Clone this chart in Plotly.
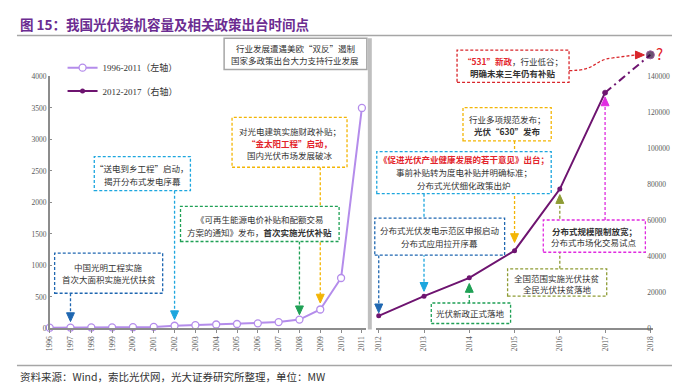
import plotly.graph_objects as go

W, H = 680, 384

# ---------------- data ----------------
years_left = list(range(1996, 2012))
cap_left = [11, 13, 15, 16, 19, 24, 42, 52, 62, 70, 80, 100, 140, 300, 800, 3500]
years_right = list(range(2012, 2018))
cap_right = [7000, 17900, 28100, 43200, 77400, 131000]
years_proj = [2017, 2018]
cap_proj = [131000, 152000]
left_ticks = list(range(0, 4001, 500))
right_ticks = list(range(0, 140001, 20000))
right_ticktext = [str(v) for v in right_ticks]
xt_left = [str(y) for y in years_left]
years_right_axis = list(range(2012, 2019))
xt_right = [str(y) for y in years_right_axis]

# ---------------- geometry helpers ----------------
def px(x):
    return x / W

def py(y):
    return 1 - y / H

LX0, LX1 = 37, 356
RX0, RX1 = 366, 646
Y_BOT, Y_TOP_L, Y_TOP_R = 324, 66, 27
L_STEP = 21.0
R_STEP = 45.67
L_RANGE = [1996, 1996 + (LX1 - LX0) / L_STEP]
r0 = 2012 - (369 - RX0) / R_STEP
R_RANGE = [r0, r0 + (RX1 - RX0) / R_STEP]
R_MAX = 140000 * (Y_BOT - Y_TOP_R) / (Y_BOT - Y_TOP_L)


def lx(year):
    return LX0 + (year - L_RANGE[0]) * L_STEP


def rx(year):
    return RX0 + (year - R_RANGE[0]) * R_STEP


LAV = "#B48CEB"
PUR = "#6E1470"
TXT = "#333333"
REDT = "#E3242B"
BLUE_D = "#1F67B1"
CYAN = "#1DA6DE"
GREEN = "#1FA055"
GOLD = "#F3B505"
RED = "#D9262B"
OLIVE = "#8E9C35"
MAGENTA = "#E02BE0"
GRAY = "#A6A6A6"
CJK = "Noto Sans CJK SC"
SERIF = "Liberation Serif"

fig = go.Figure()
fig.add_trace(go.Scatter(
    x=years_left, y=cap_left, name="1996-2011（左轴）", mode="lines+markers",
    line=dict(color=LAV, width=2),
    marker=dict(symbol="circle", size=7, color="white", line=dict(color=LAV, width=1.3)),
    xaxis="x", yaxis="y", cliponaxis=False, legend="legend"))
fig.add_trace(go.Scatter(
    x=years_right, y=cap_right, name="2012-2017（右轴）", mode="lines+markers",
    line=dict(color=PUR, width=2), marker=dict(size=5, color=PUR),
    xaxis="x2", yaxis="y2", cliponaxis=False, legend="legend2"))
fig.add_trace(go.Scatter(
    x=years_proj, y=cap_proj, mode="lines+markers", showlegend=False,
    line=dict(color=PUR, width=2, dash="8px,4px,2px,4px"),
    marker=dict(size=[5, 8], color=[PUR, "#2A0B35"]),
    xaxis="x2", yaxis="y2", cliponaxis=False, legend="legend2"))

shapes = []
annotations = []


def line(x0, y0, x1, y1, color, width=1.3, dash=None, layer="above"):
    shapes.append(dict(type="line", xref="paper", yref="paper",
                       x0=px(x0), y0=py(y0), x1=px(x1), y1=py(y1),
                       line=dict(color=color, width=width, dash=dash), layer=layer))


def box(x0, y0, x1, y1, color, dash="3px,2px", width=1.3):
    shapes.append(dict(type="rect", xref="paper", yref="paper",
                       x0=px(x0), y0=py(y1), x1=px(x1), y1=py(y0),
                       line=dict(color=color, width=width, dash=dash),
                       fillcolor="white", layer="above"))


def tri(x, y, color, direction="down", w=4, h=9):
    if direction == "down":
        pts = [(x - w, y - h), (x + w, y - h), (x, y)]
    elif direction == "up":
        pts = [(x - w, y + h), (x + w, y + h), (x, y)]
    else:
        pts = [(x - h, y - w), (x - h, y + w), (x, y)]
    path = "M " + " L ".join(f"{px(a):.5f},{py(b):.5f}" for a, b in pts) + " Z"
    shapes.append(dict(type="path", xref="paper", yref="paper", path=path,
                       fillcolor=color, line=dict(color=color, width=1), layer="above"))


def arrow(x, y_from, y_tip, color, direction="down"):
    if direction == "down":
        line(x, y_from, x, y_tip - 8, color, dash="3px,2px")
    else:
        line(x, y_from, x, y_tip + 8, color, dash="3px,2px")
    tri(x, y_tip, color, direction)


def text(x, y, s, size=8.5, color=TXT, anchor="center"):
    annotations.append(dict(xref="paper", yref="paper", x=px(x), y=py(y), text=s,
                            showarrow=False, xanchor=anchor, yanchor="middle",
                            font=dict(family=CJK, size=size, color=color)))


# frame lines / separator
line(4, 24, 676, 24, GRAY, width=1.5)
line(4, 362, 676, 362, GRAY, width=1.5)
shapes.append(dict(type="rect", xref="paper", yref="paper", x0=px(358), x1=px(362),
                   y0=py(325), y1=py(27), fillcolor="#BFBFBF", line=dict(width=0), layer="below"))

# arrows (drawn before boxes)
arrow(lx(1997), 288, 317, BLUE_D)
arrow(lx(2002), 183, 315, CYAN)
arrow(lx(2008), 235, 310, GREEN)
arrow(lx(2009), 159, 298, GOLD)
arrow(rx(2012), 249, 308, BLUE_D)
arrow(rx(2013), 186, 286, CYAN)
arrow(rx(2014), 298, 278, GREEN, "up")
arrow(rx(2015), 132, 236, GOLD)
arrow(rx(2016), 263, 187, OLIVE, "up")
arrow(rx(2017), 213, 87, MAGENTA, "up")

# red curved arrow
path = (f"M {px(561):.5f},{py(60):.5f} C {px(590):.5f},{py(60):.5f} {px(585):.5f},{py(49):.5f} "
        f"{px(605):.5f},{py(47):.5f} L {px(628):.5f},{py(44):.5f}")
shapes.append(dict(type="path", xref="paper", yref="paper", path=path,
                   fillcolor="rgba(0,0,0,0)", line=dict(color=RED, width=1.3, dash="3px,2px"), layer="above"))
tri(637, 44, RED, "right", w=4, h=9)

# boxes
shapes.append(dict(type="rect", xref="paper", yref="paper", x0=px(213), x1=px(357),
                   y0=py(59), y1=py(27), fillcolor="white", line=dict(color=GRAY, width=1.5), layer="above"))
box(42, 247, 151, 288, BLUE_D)
box(82, 148, 179, 183, CYAN)
box(169, 199, 329, 235, GREEN)
box(221, 108, 337, 159, GOLD)
box(448, 39, 561, 72, RED)
box(454, 98, 543, 132, GOLD)
box(367, 143, 543, 186, CYAN)
box(365, 211, 496, 249, BLUE_D)
box(422, 298, 502, 319, GREEN)
box(499, 263, 599, 291, OLIVE)
box(535, 213, 638, 246, MAGENTA)

# texts
text(285, 37, "行业发展遭遇美欧“双反”遏制")
text(285, 49, "国家多政策出台大力支持行业发展")
text(96.5, 261, "中国光明工程实施")
text(96.5, 273, "首次大面积实施光伏扶贫")
text(130.5, 160, "“送电到乡工程”启动，")
text(130.5, 173, "揭开分布式发电序幕")
text(249, 212, "《可再生能源电价补贴和配额交易")
text(249, 225, "方案的通知》发布，<b>首次实施光伏补贴</b>")
text(279, 122, "对光电建筑实施财政补贴；")
text(279, 134, "<b>“金太阳工程”启动，</b>", color=REDT)
text(279, 146, "国内光伏市场发展破冰")
text(504.5, 50, f"<b><span style='color:{REDT}'>“531”新政</span></b>，行业低谷；")
text(504.5, 62, "<b>明确未来三年仍有补贴</b>")
text(498.5, 110, "行业多项规范发布；")
text(498.5, 122, "<b>光伏“630”发布</b>")
text(455, 151, "<b>《促进光伏产业健康发展的若干意见》出台；</b>", color=REDT)
text(455, 164, "事前补贴转为度电补贴并明确标准；")
text(455, 177, "分布式光伏细化政策出炉")
text(430.5, 223, "分布式光伏发电示范区申报启动")
text(430.5, 237, "分布式应用拉开序幕")
text(462, 308, "光伏新政正式落地")
text(549, 272, "全国范围实施光伏扶贫")
text(549, 284, "全民光伏扶贫落地")
text(586.5, 224, "<b>分布式规模限制放宽；</b>")
text(586.5, 236, "分布式市场化交易试点")
text(647, 43, "?", size=15, color=REDT, anchor="left")

# title & footer
text(5, 12, "<b>图 15：我国光伏装机容量及相关政策出台时间点</b>", size=13.5, color="#6B2C91", anchor="left")
text(5, 373, "资料来源：Wind，索比光伏网，光大证券研究所整理，单位：MW", size=10.5, color=TXT, anchor="left")

tickfont = dict(family=SERIF, size=7.5, color="#595959")
axcol = "#8C8C8C"
legfont = dict(family=SERIF + ", " + CJK, size=9, color=TXT)

fig.update_layout(
    width=W, height=H, margin=dict(l=0, r=0, t=0, b=0),
    paper_bgcolor="white", plot_bgcolor="rgba(0,0,0,0)",
    showlegend=True,
    legend=dict(x=px(50), y=py(57), xanchor="left", yanchor="middle",
                bgcolor="rgba(0,0,0,0)", itemwidth=30, font=legfont),
    legend2=dict(x=px(50), y=py(81), xanchor="left", yanchor="middle",
                 bgcolor="rgba(0,0,0,0)", itemwidth=30, font=legfont),
    xaxis=dict(domain=[px(LX0), px(LX1)], range=L_RANGE, anchor="y",
               tickmode="array", tickvals=years_left, ticktext=xt_left, tickangle=-90,
               tickfont=tickfont, showline=True, linecolor=axcol, linewidth=1.5,
               ticks="outside", ticklen=3, tickcolor=axcol, showgrid=False, zeroline=False),
    yaxis=dict(domain=[py(Y_BOT), py(Y_TOP_L)], range=[0, 4000], anchor="x",
               tickmode="array", tickvals=left_ticks, tickfont=tickfont,
               showline=True, linecolor=axcol, linewidth=1.5, ticks="inside", ticklen=3,
               tickcolor=axcol, showgrid=False, zeroline=False),
    xaxis2=dict(domain=[px(RX0), px(RX1)], range=R_RANGE, anchor="y2",
                tickmode="array", tickvals=years_right_axis, ticktext=xt_right, tickangle=-90,
                tickfont=tickfont, showline=True, linecolor=axcol, linewidth=1.5,
                ticks="outside", ticklen=3, tickcolor=axcol, showgrid=False, zeroline=False),
    yaxis2=dict(domain=[py(Y_BOT), py(Y_TOP_R)], range=[0, R_MAX], anchor="free",
                position=px(639), side="right",
                tickmode="array", tickvals=right_ticks, ticktext=right_ticktext, tickfont=tickfont,
                showline=False, showgrid=False, zeroline=False),
    shapes=shapes, annotations=annotations,
)

fig.write_html("out.html")
